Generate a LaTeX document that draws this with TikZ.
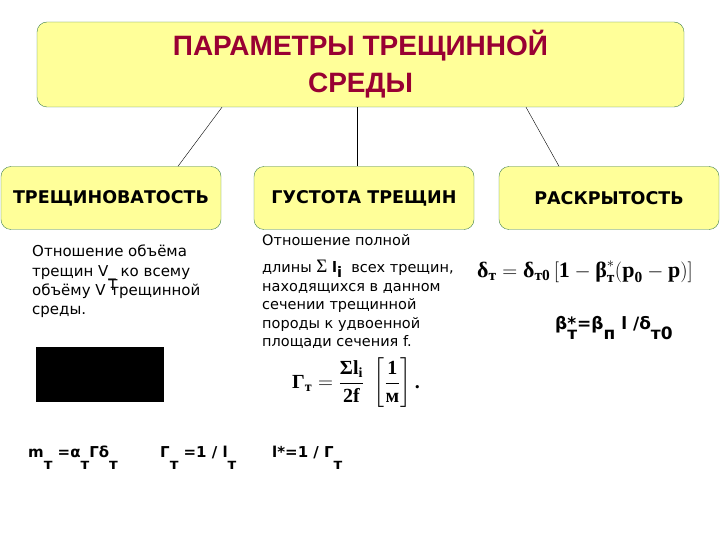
\documentclass[tikz,border=0pt]{standalone}
\usepackage{fontspec}
\usepackage{amsmath}
\setmainfont{DejaVu Sans}
\newfontfamily\arialfont{Liberation Sans}
\newfontfamily\timesfont{Liberation Serif}
\definecolor{paleyellow}{HTML}{FFFF99}
\definecolor{edgegreen}{HTML}{3F7F50}
\definecolor{darkred}{HTML}{990033}
\newcommand{\dn}[2][0.6em]{\raisebox{-#1}{#2}}

\begin{document}
\begin{tikzpicture}[x=1pt, y=-1pt,
    headbox/.style={draw=edgegreen, fill=paleyellow, rounded corners=10pt, inner sep=0pt},
    bodytext/.style={align=left, anchor=north west, inner sep=0pt},
    formula/.style={inner sep=0pt, anchor=base west}]
    \useasboundingbox (0,0) rectangle (720,540);

    % Title
    \node[headbox, minimum width=647pt, minimum height=85pt, align=center, text=darkred,
        font=\arialfont\bfseries\fontsize{28}{37}\selectfont] (title) at (360.5,64.5) {ПАРАМЕТРЫ ТРЕЩИННОЙ\\СРЕДЫ};

    % Parameters
    \node[headbox, minimum width=220pt, minimum height=63pt, font=\bfseries\fontsize{17.5}{20}\selectfont] (crack) at (111,198) {ТРЕЩИНОВАТОСТЬ};
    \node[headbox, minimum width=220pt, minimum height=63pt, font=\bfseries\fontsize{17.5}{20}\selectfont] (density) at (364,198) {ГУСТОТА ТРЕЩИН};
    \node[headbox, minimum width=220pt, minimum height=63pt, font=\bfseries\fontsize{17.5}{20}\selectfont] (opening) at (609,198) {РАСКРЫТОСТЬ};

    % Links
    \draw ([xshift=-138.5pt]title.south) -- ([xshift=67pt]crack.north);
    \draw ([xshift=-3.5pt]title.south) -- ([xshift=-7pt]density.north);
    \draw ([xshift=165.5pt]title.south) -- ([xshift=-50pt]opening.north);

    % Crack ratio
    \node[bodytext, font=\fontsize{15}{19.2}\selectfont] (ratio) at (32,245) {Отношение объёма\\трещин V\rlap{\raisebox{-14pt}[0pt][0pt]{Т}}\_ ко всему\\объёму V трещинной\\среды.};
    \node[fill=black, minimum width=128pt, minimum height=55pt, inner sep=0pt] (photo) at (100,374.5) {};

    % Density text and formula
    \node[bodytext, font=\fontsize{14.5}{18.5}\selectfont] (lengths) at (262,234) {Отношение полной\\[9pt]длины {\timesfont\fontsize{19}{19}\selectfont Σ} {\bfseries l\raisebox{-0.3em}{i}}\ \ всех трещин,\\находящихся в данном\\сечении трещинной\\породы к удвоенной\\площади сечения f.};
    \node[font=\timesfont\bfseries\fontsize{20}{22}\selectfont, inner sep=0pt] (gammaf) at (356,383) {$\displaystyle \text{Γ}_{\text{т}} = \frac{\text{Σl}_{\text{i}}}{\text{2f}}\;\left[\frac{\text{1}}{\text{м}}\right]\text{.}$};

    % Opening formulas
    \node[formula, font=\timesfont\bfseries\fontsize{22}{24}\selectfont] (deltaf) at (477,277) {$\text{δ}_{\text{т}} = \text{δ}_{\text{т0}}\,[\text{1} - \text{β}^{*}_{\text{т}}(\text{p}_{\text{0}} - \text{p})]$};
    \node[formula, font=\bfseries\fontsize{17}{18}\selectfont] (betaf) at (555,329) {β\rlap{*}\dn[10pt]{т}=β\dn[10pt]{п} l /δ\dn[10pt]{т0}};

    % Bottom relations
    \node[formula, font=\bfseries\fontsize{15}{18}\selectfont] (mass) at (28,457) {m\dn[12pt]{т} =α\dn[12pt]{т}Γδ\dn[12pt]{т}};
    \node[formula, font=\bfseries\fontsize{15}{18}\selectfont] (gammat) at (160,457) {Γ\dn[12pt]{т} =1 / l\dn[12pt]{т}};
    \node[formula, font=\bfseries\fontsize{15}{18}\selectfont] (lstar) at (272,457) {l*=1 / Γ\dn[12pt]{т}};
\end{tikzpicture}
\end{document}
